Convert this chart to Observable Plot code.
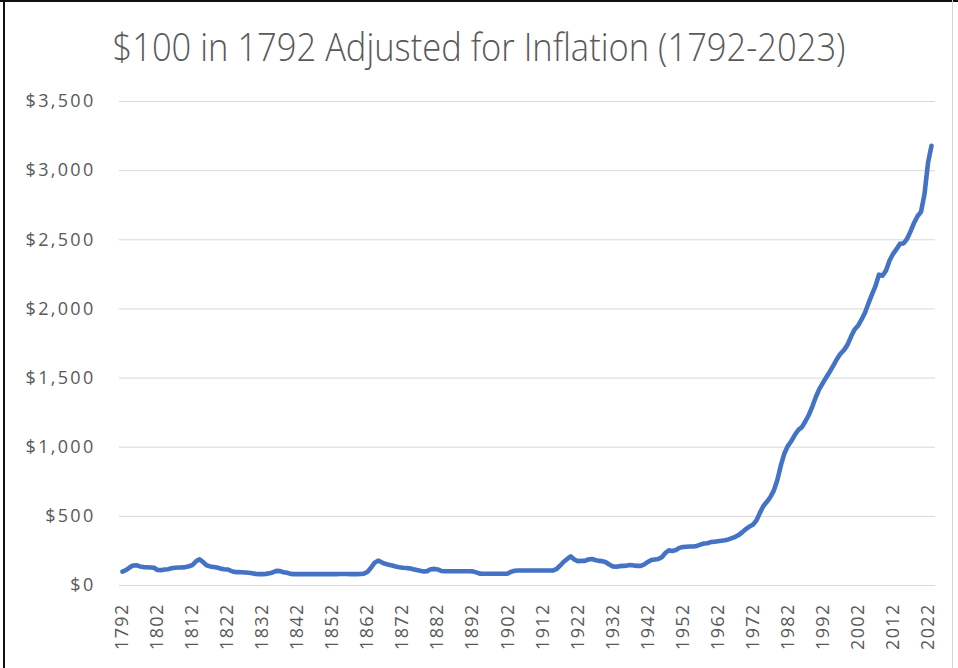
<!DOCTYPE html>
<html>
<head>
<meta charset="utf-8">
<script src="https://cdn.jsdelivr.net/npm/d3@7"></script>
<script src="https://cdn.jsdelivr.net/npm/@observablehq/plot@0.6"></script>
<style>
  html, body { margin: 0; padding: 0; background: #fff; }
  #wrap { position: relative; width: 958px; height: 668px; overflow: hidden; background: #fff; }
  #wrap svg { display: block; }
  .edge { position: absolute; }
</style>
</head>
<body>
<div id="wrap">
  <div class="edge" style="left:0;top:0;width:958px;height:2px;background:#111;"></div>
  <div class="edge" style="left:3px;top:0;width:2px;height:668px;background:#111;"></div>
  <div class="edge" style="left:952px;top:0;width:1px;height:668px;background:#d4d4d4;"></div>
</div>
<script>
const titleText = "$100 in 1792 Adjusted for Inflation (1792-2023)";
const startYear = 1792;
const values = [
  // 1792-1799
  100, 112, 130, 145, 146, 138, 133, 132,
  // 1800-1809
  130, 128, 112, 111, 116, 118, 124, 128, 130, 131,
  // 1810-1819
  133, 139, 148, 175, 190, 170, 146, 138, 134, 130,
  // 1820-1829
  122, 118, 116, 106, 98, 97, 96, 94, 92, 88,
  // 1830-1839
  84, 82, 82, 84, 88, 96, 106, 104, 96, 92,
  // 1840-1849
  84, 82, 82, 82, 82, 82, 82, 82, 82, 82,
  // 1850-1859
  82, 82, 82, 82, 83, 83, 83, 82, 82, 82,
  // 1860-1869
  83, 86, 100, 130, 165, 180, 168, 157, 150, 144,
  // 1870-1879
  137, 132, 128, 127, 124, 118, 112, 106, 101, 104,
  // 1880-1889
  118, 120, 116, 105, 103, 103, 103, 103, 103, 103,
  // 1890-1899
  103, 103, 102, 95, 86, 85, 85, 85, 85, 85,
  // 1900-1909
  85, 85, 86, 100, 107, 108, 108, 108, 108, 108,
  // 1910-1919
  108, 108, 108, 108, 108, 109, 120, 145, 172, 192,
  // 1920-1929
  210, 188, 176, 178, 178, 188, 192, 184, 178, 176,
  // 1930-1939
  168, 152, 138, 136, 140, 142, 144, 148, 145, 142,
  // 1940-1949
  142, 152, 170, 184, 188, 192, 205, 235, 254, 250,
  // 1950-1959
  256, 272, 278, 280, 282, 282, 286, 295, 304, 306,
  // 1960-1969
  314, 317, 320, 323, 327, 333, 342, 352, 366, 386,
  // 1970-1979
  408, 426, 440, 470, 525, 575, 605, 640, 688, 765,
  // 1980-1989
  870, 955, 1010, 1045, 1090, 1125, 1145, 1188, 1235, 1296,
  // 1990-1999
  1365, 1422, 1466, 1508, 1548, 1592, 1638, 1676, 1702, 1740,
  // 2000-2009
  1798, 1850, 1878, 1922, 1972, 2040, 2105, 2165, 2248, 2240,
  // 2010-2019
  2277, 2348, 2397, 2432, 2471, 2474, 2506, 2560, 2621, 2670,
  // 2020-2023
  2702, 2830, 3056, 3180
];
const xTicks = [1792, 1802, 1812, 1822, 1832, 1842, 1852, 1862, 1872, 1882, 1892, 1902,
                1912, 1922, 1932, 1942, 1952, 1962, 1972, 1982, 1992, 2002, 2012, 2022];
const yTicks = [0, 500, 1000, 1500, 2000, 2500, 3000, 3500];

const data = values.map((v, i) => ({year: startYear + i, value: v}));
const money = d3.format(",");

const chart = Plot.plot({
  width: 958,
  height: 668,
  marginLeft: 122,
  marginRight: 27,
  marginTop: 101,
  marginBottom: 83,
  style: {
    fontFamily: "'Open Sans', 'Noto Sans', sans-serif",
    fontSize: "18px",
    color: "#595959",
    background: "transparent",
    letterSpacing: "1.3px"
  },
  x: {domain: [1792, 2023]},
  y: {domain: [0, 3500]},
  marks: [
    Plot.ruleY(yTicks, {x1: 1791.14, x2: 2024.14, stroke: "#d9d9d9", strokeWidth: 1}),
    Plot.axisY(yTicks, {tickSize: 0, tickPadding: 27, tickFormat: d => "$" + money(d), label: null, fill: "#595959"}),
    Plot.axisX(xTicks, {tickSize: 0, tickPadding: 18, tickRotate: -90, tickFormat: d => String(d), label: null, fill: "#595959"}),
    Plot.line(data, {x: "year", y: "value", stroke: "#4472C4", strokeWidth: 4.6,
                     strokeLinejoin: "round", strokeLinecap: "round"})
  ]
});

const svg = d3.select(chart);
svg.selectAll('g[aria-label="y-axis tick label"]').style("letter-spacing", "2.3px");

svg.append("text")
  .attr("x", 479)
  .attr("y", 61)
  .attr("text-anchor", "middle")
  .attr("font-family", "'Open Sans', Lato, sans-serif")
  .attr("font-weight", 300)
  .attr("font-size", 38)
  .attr("fill", "#595959")
  .style("letter-spacing", "0px")
  .attr("textLength", 733)
  .attr("lengthAdjust", "spacingAndGlyphs")
  .text(titleText);

document.getElementById("wrap").prepend(chart);
</script>
</body>
</html>
